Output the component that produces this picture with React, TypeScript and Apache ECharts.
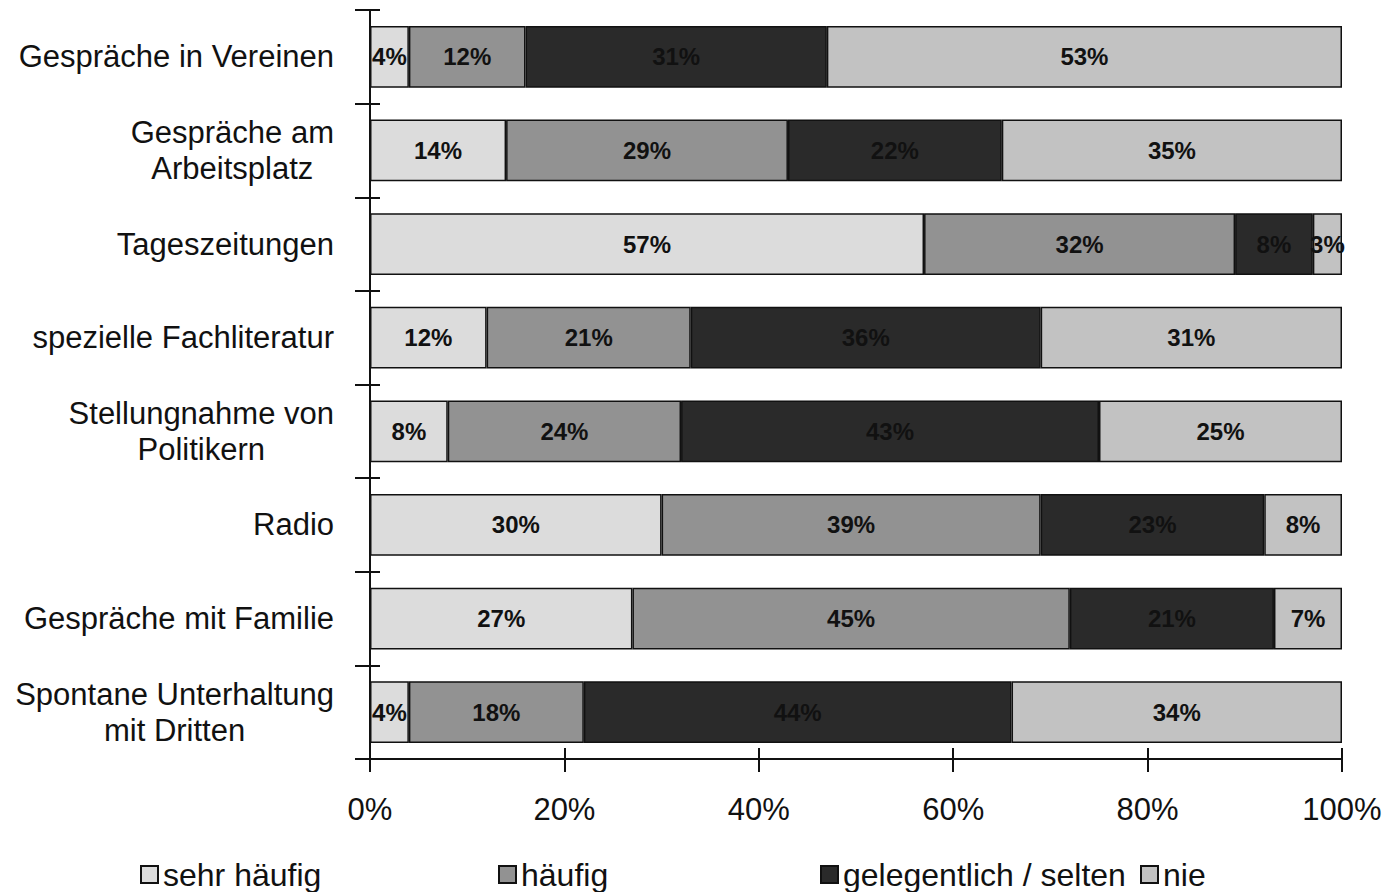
import React, { useEffect, useRef } from "react";
import * as echarts from "echarts";

const categories = [
  "Gespräche in Vereinen",
  "Gespräche am\nArbeitsplatz",
  "Tageszeitungen",
  "spezielle Fachliteratur",
  "Stellungnahme von\nPolitikern",
  "Radio",
  "Gespräche mit Familie",
  "Spontane Unterhaltung\nmit Dritten",
];

const seriesNames = ["sehr häufig", "häufig", "gelegentlich / selten", "nie"];
const sehrHaeufig = [4, 14, 57, 12, 8, 30, 27, 4];
const haeufig = [12, 29, 32, 21, 24, 39, 45, 18];
const gelegentlich = [31, 22, 8, 36, 43, 23, 21, 44];
const nie = [53, 35, 3, 31, 25, 8, 7, 34];

const xTicks = [0, 20, 40, 60, 80, 100];

const FONT = '"Liberation Sans", Arial, sans-serif';
const colors = ["#dcdcdc", "#929292", "#2a2a2a", "#c2c2c2"];

function measure(text: string, size: number): number {
  const c = document.createElement("canvas");
  const ctx = c.getContext("2d");
  if (!ctx) return text.length * size * 0.5;
  ctx.font = `${size}px ${FONT}`;
  return ctx.measureText(text).width;
}

export default function App() {
  const ref = useRef<HTMLDivElement>(null);
  useEffect(() => {
    if (!ref.current) return;
    const chart = echarts.init(ref.current, undefined, { renderer: "svg" });
    const labelSize = 31;
    const rich: Record<string, any> = {};
    categories.forEach((c, i) => {
      const w = Math.max(...c.split("\n").map((l) => measure(l, labelSize))) + 2;
      rich["c" + i] = {
        width: w,
        align: "center",
        fontSize: labelSize,
        fontFamily: FONT,
        color: "#111",
        lineHeight: 36,
      };
    });
    const dataSets = [sehrHaeufig, haeufig, gelegentlich, nie];
    const legendLefts = [140, 498, 820, 1140];
    const gridBox = { left: 370, right: 45, top: 10, bottom: 133, containLabel: false };
    const tickStyle = { color: "#111", width: 2 };
    chart.setOption({
      animation: false,
      backgroundColor: "#ffffff",
      grid: [gridBox, { ...gridBox }],
      legend: seriesNames.map((n, i) => ({
        data: [n],
        left: legendLefts[i],
        top: 858,
        itemWidth: 17,
        itemHeight: 17,
        padding: 0,
        icon: "rect",
        textStyle: { fontSize: 32, fontFamily: FONT, color: "#111", lineHeight: 33 },
      })),
      xAxis: [
        {
          type: "value",
          gridIndex: 0,
          min: 0,
          max: 100,
          interval: 20,
          axisLine: { show: true, lineStyle: { color: "#111", width: 2 } },
          axisTick: { show: true, length: 13, lineStyle: tickStyle },
          splitLine: { show: false },
          axisLabel: {
            formatter: (v: number) => (xTicks.includes(v) ? v + "%" : ""),
            fontSize: 31,
            fontFamily: FONT,
            color: "#111",
            margin: 35,
          },
        },
        {
          type: "value",
          gridIndex: 1,
          position: "bottom",
          min: 0,
          max: 100,
          interval: 20,
          axisLine: { show: false },
          axisTick: { show: true, inside: true, length: 11, lineStyle: tickStyle },
          splitLine: { show: false },
          axisLabel: { show: false },
        },
      ],
      yAxis: [
        {
          type: "category",
          gridIndex: 0,
          data: categories,
          inverse: true,
          axisLine: { show: true, lineStyle: { color: "#111", width: 2 } },
          axisTick: { show: true, length: 15, lineStyle: tickStyle },
          axisLabel: {
            margin: 35,
            formatter: (v: string, i: number) =>
              v
                .split("\n")
                .map((l) => `{c${i}|${l}}`)
                .join("\n"),
            rich,
          },
        },
        {
          type: "category",
          gridIndex: 1,
          data: categories,
          inverse: true,
          position: "left",
          axisLine: { show: false },
          axisTick: { show: true, inside: true, length: 10, lineStyle: tickStyle },
          axisLabel: { show: false },
        },
      ],
      series: seriesNames.map((n, i) => ({
        name: n,
        type: "bar",
        stack: "total",
        xAxisIndex: 0,
        yAxisIndex: 0,
        barCategoryGap: "34%",
        data: dataSets[i],
        itemStyle: { color: colors[i], borderColor: "#111", borderWidth: 1.5 },
        label: {
          show: true,
          position: "inside",
          formatter: "{c}%",
          fontSize: 24,
          fontWeight: "bold",
          fontFamily: FONT,
          color: "#111",
        },
      })),
    });
    return () => chart.dispose();
  }, []);
  return <div ref={ref} style={{ width: 1387, height: 892, position: "absolute", left: 0, top: 0 }} />;
}
